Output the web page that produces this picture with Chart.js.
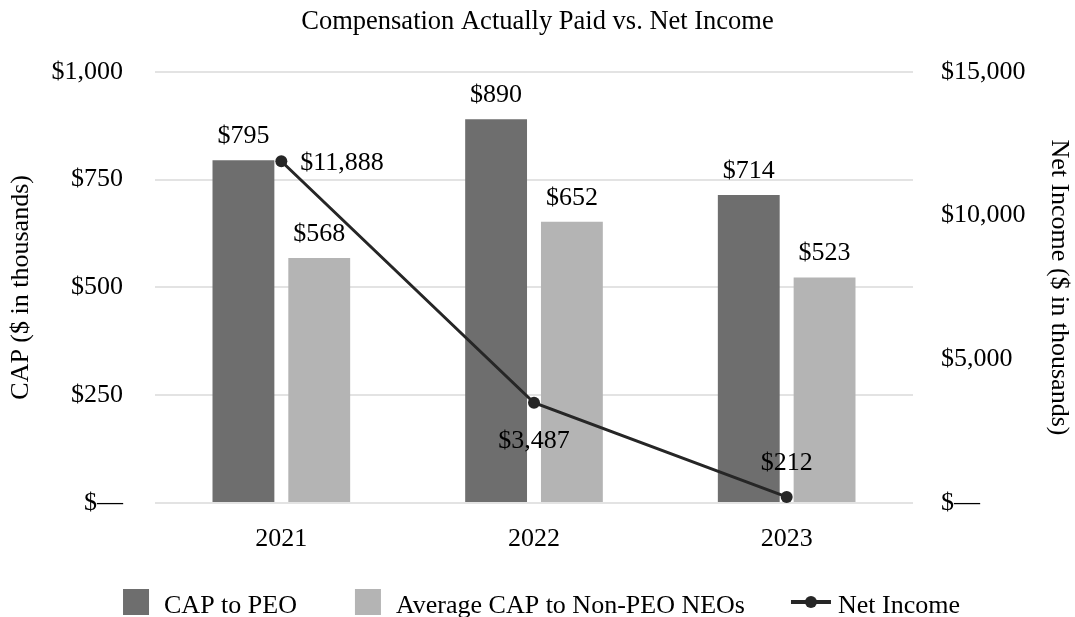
<!DOCTYPE html>
<html>
<head>
<meta charset="utf-8">
<title>Compensation Actually Paid vs. Net Income</title>
<script src="https://cdn.jsdelivr.net/npm/chart.js@4.4.0/dist/chart.umd.min.js"></script>
<style>
  html, body { margin: 0; padding: 0; background: #fff; }
  #chart { display: block; }
</style>
</head>
<body>
<canvas id="chart" width="1075" height="617"></canvas>
<script>
// --- data ---
const years = ['2021', '2022', '2023'];
const capToPeo = [795, 890, 714];
const avgCapNonPeo = [568, 652, 523];
const netIncome = [11888, 3487, 212];
const capTicks = [0, 250, 500, 750, 1000];
const incomeTicks = [0, 5000, 10000, 15000];
// where each net income label sits relative to its point
const incomeLabelSide = ['right', 'below', 'above'];

const DARK = '#6e6e6e';
const LIGHT = '#b4b4b4';
const LINE = '#262626';
const SERIF = "'Liberation Serif', 'Times New Roman', serif";

Chart.defaults.font.family = SERIF;
Chart.defaults.font.size = 26;
Chart.defaults.color = '#000';

function money(v) {
    if (v === 0) return '$\u2014';
    return '$' + v.toLocaleString('en-US');
}

// value labels on bars and line points
const valueLabels = {
    id: 'valueLabels',
    afterDatasetsDraw(chart) {
        const ctx = chart.ctx;
        ctx.save();
        ctx.font = '26px ' + SERIF;
        ctx.fillStyle = '#000';
        ctx.textBaseline = 'alphabetic';
        chart.data.datasets.forEach((ds, di) => {
            const meta = chart.getDatasetMeta(di);
            meta.data.forEach((el, i) => {
                const text = money(ds.data[i]);
                if (ds.type === 'line') {
                    const side = incomeLabelSide[i];
                    if (side === 'right') {
                        ctx.textAlign = 'left';
                        ctx.fillText(text, el.x + 19, el.y + 9);
                    } else if (side === 'below') {
                        ctx.textAlign = 'center';
                        ctx.fillText(text, el.x, el.y + 45);
                    } else {
                        ctx.textAlign = 'center';
                        ctx.fillText(text, el.x, el.y - 27);
                    }
                } else {
                    ctx.textAlign = 'center';
                    ctx.fillText(text, el.x, el.y - 17);
                }
            });
        });
        ctx.restore();
    }
};

// legend drawn below the axis: squares for bars, line+dot for the line series
const bottomLegend = {
    id: 'bottomLegend',
    afterDraw(chart) {
        const ctx = chart.ctx;
        const box = 26;
        ctx.save();
        ctx.font = '26px ' + SERIF;
        ctx.textBaseline = 'alphabetic';
        ctx.textAlign = 'left';
        const items = chart.data.datasets.map(ds => {
            const isLine = ds.type === 'line';
            const mark = isLine ? 40 : box;
            const gap = isLine ? 7 : 15;
            return { ds, isLine, mark, gap, tw: ctx.measureText(ds.label).width };
        });
        const spacing = [58, 46];
        let total = 0;
        items.forEach((it, i) => {
            total += it.mark + it.gap + it.tw + (i < items.length - 1 ? spacing[i] : 0);
        });
        let x = (chart.width - total) / 2 + 4;
        const top = chart.height - 28;
        const cy = top + box / 2;
        items.forEach((it, i) => {
            if (it.isLine) {
                ctx.strokeStyle = it.ds.borderColor;
                ctx.lineWidth = 4;
                ctx.beginPath();
                ctx.moveTo(x, cy);
                ctx.lineTo(x + it.mark, cy);
                ctx.stroke();
                ctx.fillStyle = it.ds.borderColor;
                ctx.beginPath();
                ctx.arc(x + it.mark / 2, cy, 6, 0, Math.PI * 2);
                ctx.fill();
            } else {
                ctx.fillStyle = it.ds.backgroundColor;
                ctx.fillRect(x, top, box, box);
            }
            x += it.mark + it.gap;
            ctx.fillStyle = '#000';
            ctx.fillText(it.ds.label, x, top + 24);
            x += it.tw + (i < items.length - 1 ? spacing[i] : 0);
        });
        ctx.restore();
    }
};

new Chart(document.getElementById('chart'), {
    type: 'bar',
    data: {
        labels: years,
        datasets: [
            {
                label: 'CAP to PEO',
                data: capToPeo,
                backgroundColor: DARK,
                borderWidth: 0,
                yAxisID: 'y',
                order: 1,
                categoryPercentage: 0.6,
                barPercentage: 0.816
            },
            {
                label: 'Average CAP to Non-PEO NEOs',
                data: avgCapNonPeo,
                backgroundColor: LIGHT,
                borderWidth: 0,
                yAxisID: 'y',
                order: 1,
                categoryPercentage: 0.6,
                barPercentage: 0.816
            },
            {
                type: 'line',
                label: 'Net Income',
                data: netIncome,
                borderColor: LINE,
                backgroundColor: LINE,
                borderWidth: 3,
                pointRadius: 6,
                pointHoverRadius: 6,
                pointBackgroundColor: LINE,
                pointBorderWidth: 0,
                tension: 0,
                yAxisID: 'y1',
                order: 0
            }
        ]
    },
    options: {
        responsive: false,
        animation: false,
        layout: { padding: { bottom: 58 } },
        plugins: {
            title: {
                display: true,
                text: 'Compensation Actually Paid vs. Net Income',
                font: { size: 26.5, weight: 'normal' },
                color: '#000',
                padding: { top: 6, bottom: 34 }
            },
            legend: { display: false },
            tooltip: { enabled: false }
        },
        scales: {
            x: {
                grid: { display: false, drawTicks: false },
                border: { display: false },
                ticks: { padding: 21, font: { size: 26 } },
                afterFit(scale) { scale.height = 56; }
            },
            y: {
                position: 'left',
                min: 0,
                max: 1000,
                afterBuildTicks(scale) { scale.ticks = capTicks.map(v => ({ value: v })); },
                ticks: { padding: 32, callback: v => money(v), font: { size: 26 } },
                grid: { color: '#e3e3e3', lineWidth: 2, drawTicks: false },
                border: { display: false },
                title: {
                    display: true,
                    text: 'CAP ($ in thousands)',
                    font: { size: 26 },
                    padding: { top: 6, bottom: 0 }
                },
                afterFit(scale) { scale.width = 155; }
            },
            y1: {
                position: 'right',
                min: 0,
                max: 15000,
                afterBuildTicks(scale) { scale.ticks = incomeTicks.map(v => ({ value: v })); },
                ticks: { padding: 28, callback: v => money(v), font: { size: 26 } },
                grid: { display: false, drawTicks: false },
                border: { display: false },
                title: {
                    display: true,
                    text: 'Net Income ($ in thousands)',
                    font: { size: 26 },
                    padding: { top: 1, bottom: 0 }
                },
                afterFit(scale) { scale.width = 162; }
            }
        }
    },
    plugins: [valueLabels, bottomLegend]
});
</script>
</body>
</html>
